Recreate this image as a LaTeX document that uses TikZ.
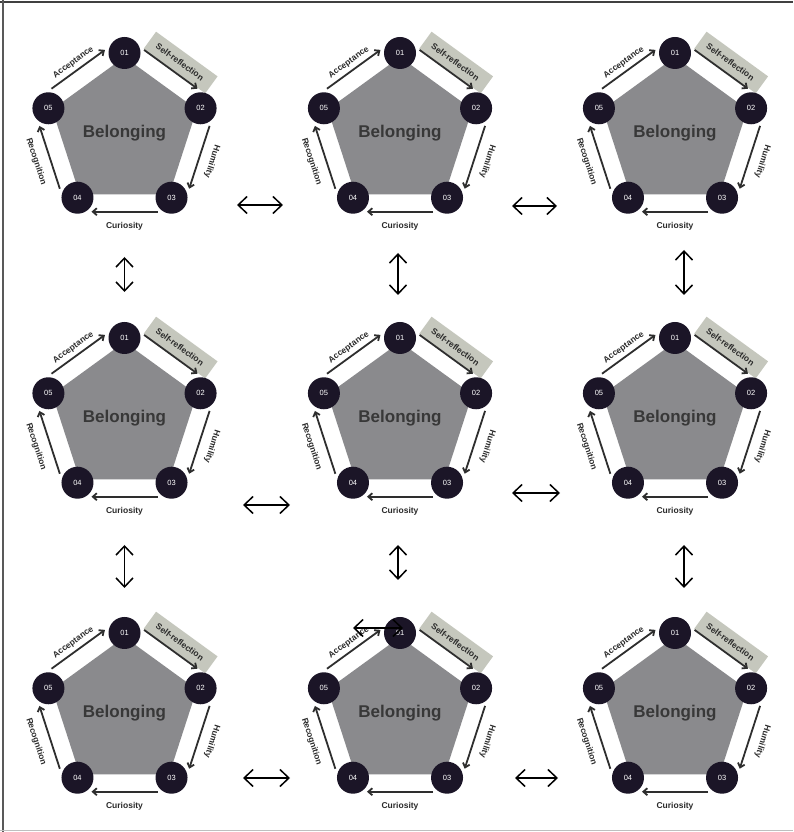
\documentclass[tikz,border=0pt]{standalone}
\usepackage{fontspec}
\setmainfont{Liberation Sans}
\usetikzlibrary{calc,arrows.meta}
\definecolor{pentagray}{HTML}{8A8A8D}
\definecolor{circfill}{HTML}{1B1527}
\definecolor{arrowdark}{HTML}{2E2E2E}
\definecolor{boxgray}{HTML}{C5C7BD}
\definecolor{textdark}{HTML}{2A2A2A}
\definecolor{belongtext}{HTML}{383838}
\tikzset{
  numc/.style={circle, fill=circfill, minimum size=32pt, inner sep=0pt, text=white, font=\fontsize{7.5}{9}\selectfont},
  cyclearrow/.style={draw=arrowdark, line width=1.8pt, -{Straight Barb[length=4pt,width=7pt]}},
  steplabel/.style={text=textdark, font=\bfseries\fontsize{8.5}{10}\selectfont, inner sep=0pt},
  srbox/.style={fill=boxgray, minimum width=76pt, minimum height=21pt, inner sep=0pt},
  belong/.style={text=belongtext, font=\bfseries\fontsize{17}{20}\selectfont, inner sep=0pt},
  dblarrow/.style={draw=black, line width=1.5pt, {Straight Barb[length=9pt,width=17pt]}-{Straight Barb[length=9pt,width=17pt]}},
  frameline/.style={line width=2pt}
}
\newcommand{\cycarrow}[2]{\draw[cyclearrow] ($(#1)!14pt!(#2)!14pt!90:(#2)$) -- ($(#2)!14pt!(#1)!14pt!-90:(#1)$);}
\newcommand{\belongunit}[3]{%
\begin{scope}[shift={(#1,#2)}]
\fill[pentagray] (90:76)--(18:76)--(-54:76)--(-126:76)--(162:76)--cycle;
\node[srbox, rotate=-36] (#3box) at ($(54:90)+(-36:4)$) {};
\node[numc] (#3a) at (90:80) {01};
\node[numc] (#3b) at (18:80) {02};
\node[numc] (#3c) at (-54:80) {03};
\node[numc] (#3d) at (-126:80) {04};
\node[numc] (#3e) at (162:80) {05};
\node[belong] (#3t) at (0,0) {Belonging};
\node[steplabel, rotate=36] (#3la) at (126:87) {Acceptance};
\node[steplabel, rotate=-36] (#3lb) at ($(54:90)+(-36:3)$) {Self-reflection};
\node[steplabel, rotate=-108] (#3lc) at (-18:92) {Humility};
\node[steplabel] (#3ld) at (-90:93) {Curiosity};
\node[steplabel, rotate=-72] (#3le) at (-162:93) {Recognition};
\end{scope}
\cycarrow{#3e}{#3a}
\cycarrow{#3a}{#3b}
\cycarrow{#3b}{#3c}
\cycarrow{#3c}{#3d}
\cycarrow{#3d}{#3e}
}
\begin{document}
\begin{tikzpicture}[x=1pt,y=1pt]
\useasboundingbox (0,0) rectangle (793,832);
\fill[white] (0,0) rectangle (793,832);
% frame
\draw[frameline, black!75] (0,830) -- (793,830);
\draw[frameline, black!65] (3,832) -- (3,0);
\draw[line width=1pt, black!25] (0,1.5) -- (793,1.5);
% units
\belongunit{124.5}{699}{uaa}
\belongunit{400}{699}{uab}
\belongunit{675}{699}{uac}
\belongunit{124.5}{414}{uba}
\belongunit{400}{414}{ubb}
\belongunit{675}{414}{ubc}
\belongunit{124.5}{119}{uca}
\belongunit{400}{119}{ucb}
\belongunit{675}{119}{ucc}
% double arrows
\coordinate (h1l) at (237,627); \coordinate (h1r) at (283,627);
\coordinate (h2l) at (512,626); \coordinate (h2r) at (557,626);
\coordinate (h3l) at (243,327); \coordinate (h3r) at (290,327);
\coordinate (h4l) at (512,339); \coordinate (h4r) at (560,339);
\coordinate (h5l) at (243,54);  \coordinate (h5r) at (290,54);
\coordinate (h6l) at (515,54);  \coordinate (h6r) at (558,54);
\coordinate (h7l) at (353,204); \coordinate (h7r) at (403,204);
\coordinate (v1t) at (124.5,575); \coordinate (v1b) at (124.5,540);
\coordinate (v2t) at (124.5,287); \coordinate (v2b) at (124.5,244);
\coordinate (v3t) at (398,579); \coordinate (v3b) at (398,537);
\coordinate (v4t) at (398,287); \coordinate (v4b) at (398,252);
\coordinate (v5t) at (684,582); \coordinate (v5b) at (684,537);
\coordinate (v6t) at (684,287); \coordinate (v6b) at (684,244);
\foreach \n in {1,...,7} {\draw[dblarrow] (h\n l) -- (h\n r);}
\foreach \n in {1,...,6} {\draw[dblarrow] (v\n t) -- (v\n b);}
\end{tikzpicture}
\end{document}
